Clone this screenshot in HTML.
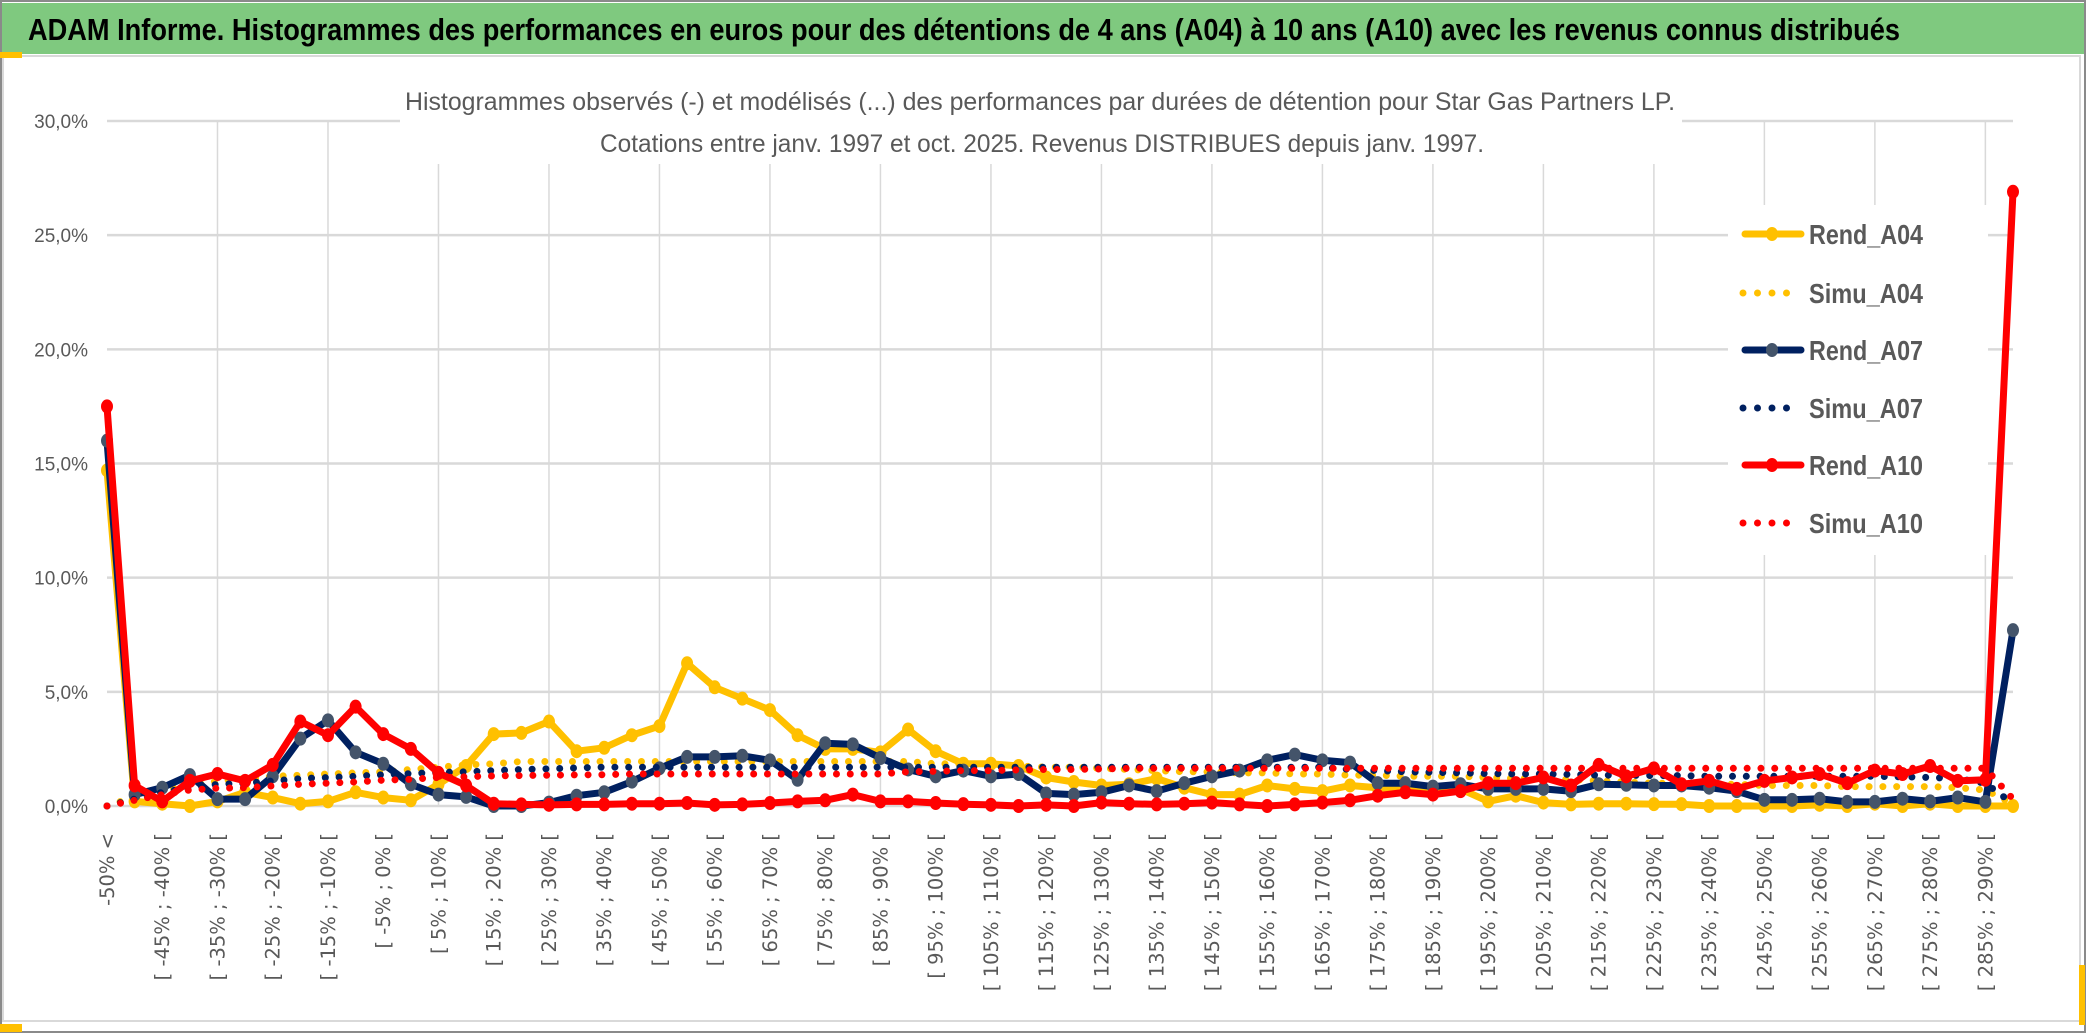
<!DOCTYPE html>
<html><head><meta charset="utf-8"><style>
html,body{margin:0;padding:0;background:#fff;}
svg{display:block;}
</style></head><body>
<svg id="chart" width="2086" height="1033" viewBox="0 0 2086 1033" xmlns="http://www.w3.org/2000/svg">
<rect x="0" y="0" width="2086" height="1033" fill="#fff"/>
<rect x="1" y="1" width="2084" height="1031" fill="none" stroke="#8a8a8a" stroke-width="2"/>
<rect x="2" y="3" width="2082" height="51" fill="#7fc97f"/>
<text x="28" y="40" font-family="'Liberation Sans Narrow','Liberation Sans',sans-serif" font-weight="bold" font-size="31" fill="#000" textLength="1872" lengthAdjust="spacingAndGlyphs">ADAM Informe. Histogrammes des performances en euros pour des détentions de 4 ans (A04) à 10 ans (A10) avec les revenus connus distribués</text>
<rect x="3" y="56" width="2077" height="965" fill="none" stroke="#d9d9d9" stroke-width="2"/>
<rect x="0" y="52" width="22" height="6" fill="#ffc000"/>
<rect x="0" y="1024" width="22" height="8" fill="#ffc000"/>
<rect x="2079" y="965" width="6" height="60" fill="#ffc000"/>
<g id="grid"></g>
<rect x="400" y="68" width="1282" height="96" fill="#fff"/>
<text x="1040" y="110" text-anchor="middle" font-family="'Liberation Sans Narrow','Liberation Sans',sans-serif" font-size="25" fill="#595959" textLength="1270" lengthAdjust="spacingAndGlyphs">Histogrammes observés (-) et modélisés (...) des performances par durées de détention pour Star Gas Partners LP.</text>
<text x="1042" y="152" text-anchor="middle" font-family="'Liberation Sans Narrow','Liberation Sans',sans-serif" font-size="25" fill="#595959" textLength="884" lengthAdjust="spacingAndGlyphs">Cotations entre janv. 1997 et oct. 2025. Revenus DISTRIBUES depuis janv. 1997.</text>
<g id="yaxis"></g>
<g id="xaxis"></g>
<g id="series"></g>
<g id="legend"></g>
</svg>
<script>
const categories = ["-50% <","[ -50% ; -45% [","[ -45% ; -40% [","[ -40% ; -35% [","[ -35% ; -30% [","[ -30% ; -25% [","[ -25% ; -20% [","[ -20% ; -15% [","[ -15% ; -10% [","[ -10% ; -5% [","[ -5% ; 0% [","[ 0% ; 5% [","[ 5% ; 10% [","[ 10% ; 15% [","[ 15% ; 20% [","[ 20% ; 25% [","[ 25% ; 30% [","[ 30% ; 35% [","[ 35% ; 40% [","[ 40% ; 45% [","[ 45% ; 50% [","[ 50% ; 55% [","[ 55% ; 60% [","[ 60% ; 65% [","[ 65% ; 70% [","[ 70% ; 75% [","[ 75% ; 80% [","[ 80% ; 85% [","[ 85% ; 90% [","[ 90% ; 95% [","[ 95% ; 100% [","[ 100% ; 105% [","[ 105% ; 110% [","[ 110% ; 115% [","[ 115% ; 120% [","[ 120% ; 125% [","[ 125% ; 130% [","[ 130% ; 135% [","[ 135% ; 140% [","[ 140% ; 145% [","[ 145% ; 150% [","[ 150% ; 155% [","[ 155% ; 160% [","[ 160% ; 165% [","[ 165% ; 170% [","[ 170% ; 175% [","[ 175% ; 180% [","[ 180% ; 185% [","[ 185% ; 190% [","[ 190% ; 195% [","[ 195% ; 200% [","[ 200% ; 205% [","[ 205% ; 210% [","[ 210% ; 215% [","[ 215% ; 220% [","[ 220% ; 225% [","[ 225% ; 230% [","[ 230% ; 235% [","[ 235% ; 240% [","[ 240% ; 245% [","[ 245% ; 250% [","[ 250% ; 255% [","[ 255% ; 260% [","[ 260% ; 265% [","[ 265% ; 270% [","[ 270% ; 275% [","[ 275% ; 280% [","[ 280% ; 285% [","[ 285% ; 290% [","> 290%"];
const yTicks = [0,5,10,15,20,25,30];
const yTickLabels = ["0,0%","5,0%","10,0%","15,0%","20,0%","25,0%","30,0%"];
const rendA04 = [14.7,0.2,0.1,0.0,0.2,0.6,0.37,0.1,0.2,0.6,0.37,0.25,0.95,1.75,3.15,3.2,3.7,2.4,2.55,3.1,3.5,6.25,5.2,4.7,4.2,3.1,2.5,2.5,2.35,3.35,2.4,1.85,1.85,1.75,1.25,1.05,0.9,0.95,1.2,0.8,0.5,0.5,0.9,0.75,0.65,0.9,0.8,0.75,0.8,0.75,0.2,0.45,0.15,0.07,0.1,0.1,0.08,0.08,0,0,0,0,0.05,0,0.1,0,0.1,0,0,0];
const simuA04 = [0,0.4,0.7,0.9,1.1,1.2,1.3,1.35,1.4,1.45,1.5,1.6,1.7,1.8,1.85,1.95,1.95,1.95,1.95,1.95,1.95,1.95,1.95,1.95,1.95,1.95,1.95,1.95,1.95,1.95,1.85,1.85,1.8,1.75,1.7,1.7,1.65,1.6,1.55,1.5,1.5,1.45,1.45,1.4,1.4,1.35,1.35,1.3,1.3,1.3,1.25,1.2,1.2,1.15,1.1,1.05,1.0,1.0,0.95,0.95,0.9,0.9,0.9,0.85,0.85,0.85,0.85,0.8,0.7,0.1];
const rendA07 = [16.0,0.5,0.8,1.35,0.3,0.3,1.3,2.95,3.75,2.35,1.85,0.95,0.5,0.4,0,0,0.15,0.45,0.6,1.07,1.65,2.15,2.15,2.2,2.0,1.15,2.75,2.7,2.1,1.6,1.3,1.55,1.3,1.4,0.55,0.5,0.6,0.9,0.65,1.0,1.3,1.55,2.0,2.25,2.0,1.9,1.0,1.0,0.85,0.95,0.75,0.75,0.75,0.65,0.95,0.93,0.9,0.9,0.8,0.65,0.27,0.27,0.32,0.18,0.18,0.32,0.2,0.37,0.18,7.7];
const simuA07 = [0,0.3,0.6,0.8,0.95,1.0,1.1,1.2,1.25,1.3,1.37,1.42,1.47,1.5,1.55,1.6,1.63,1.67,1.7,1.7,1.7,1.7,1.7,1.7,1.7,1.7,1.7,1.7,1.7,1.7,1.7,1.7,1.7,1.7,1.7,1.7,1.7,1.7,1.7,1.7,1.7,1.7,1.7,1.7,1.7,1.6,1.55,1.5,1.47,1.45,1.42,1.4,1.4,1.38,1.35,1.35,1.33,1.33,1.3,1.3,1.3,1.3,1.3,1.3,1.3,1.28,1.25,1.2,1.0,0.1];
const rendA10 = [17.5,0.9,0.2,1.1,1.4,1.1,1.8,3.7,3.1,4.35,3.15,2.5,1.45,0.9,0.1,0.07,0.05,0.07,0.07,0.1,0.1,0.13,0.05,0.07,0.13,0.2,0.25,0.5,0.2,0.2,0.13,0.08,0.05,0,0.05,0,0.15,0.1,0.07,0.1,0.15,0.07,0,0.07,0.15,0.25,0.45,0.6,0.5,0.65,1.0,1.0,1.25,0.9,1.8,1.3,1.65,0.95,1.1,0.75,1.1,1.25,1.4,1.0,1.55,1.4,1.75,1.1,1.15,26.9];
const simuA10 = [0,0.25,0.5,0.7,0.78,0.8,0.88,0.95,1.0,1.05,1.13,1.17,1.25,1.28,1.32,1.33,1.35,1.36,1.37,1.4,1.4,1.4,1.4,1.4,1.4,1.4,1.4,1.4,1.4,1.5,1.52,1.55,1.55,1.58,1.6,1.6,1.62,1.65,1.65,1.65,1.65,1.65,1.65,1.65,1.65,1.65,1.65,1.65,1.65,1.65,1.65,1.65,1.65,1.65,1.65,1.65,1.65,1.65,1.65,1.65,1.65,1.65,1.65,1.65,1.65,1.65,1.65,1.65,1.65,0.3];
const seriesNames = ["Rend_A04","Simu_A04","Rend_A07","Simu_A07","Rend_A10","Simu_A10"];

const NS = "http://www.w3.org/2000/svg";
const X0 = 107, X1 = 2013, YBOT = 806, YTOP = 121, YMAX = 30;
function xPos(i){ return X0 + i * (X1 - X0) / (categories.length - 1); }
function yPos(v){ return YBOT - v * (YBOT - YTOP) / YMAX; }
function mk(tag, attrs, parent){ const e = document.createElementNS(NS, tag); for (const k in attrs) e.setAttribute(k, attrs[k]); parent.appendChild(e); return e; }

const grid = document.getElementById('grid');
yTicks.forEach(t => {
  const l = mk('line', {x1:X0, x2:X1, y1:yPos(t), y2:yPos(t), stroke:'#d9d9d9', 'stroke-width':2.5}, grid);
  
  
});
for (let i = 4; i < categories.length; i += 4) {
  const l = mk('line', {x1:xPos(i), x2:xPos(i), y1:YTOP, y2:YBOT, stroke:'#d9d9d9', 'stroke-width':1.5}, grid);
  
  
}

const yaxis = document.getElementById('yaxis');
yTicks.forEach((t, k) => {
  const tx = mk('text', {x:88, y:yPos(t)+7, 'text-anchor':'end', 'font-family':"'Liberation Sans Narrow','Liberation Sans',sans-serif", 'font-size':19, fill:'#595959'}, yaxis);
  tx.textContent = yTickLabels[k];
  
  
});

const xaxis = document.getElementById('xaxis');
categories.forEach((c, i) => {
  if (i % 2 !== 0) return;
  const x = xPos(i) + 7;
  const tx = mk('text', {x:x, y:833, 'text-anchor':'end', transform:'rotate(-90 '+x+' 833)', 'font-family':"'DejaVu Sans',sans-serif", 'font-size':19.5, fill:'#595959'}, xaxis);
  tx.textContent = c;
  
  
});

const seriesG = document.getElementById('series');
function pts(arr){ return arr.map((v,i) => xPos(i).toFixed(1)+','+yPos(v).toFixed(1)).join(' '); }
function solid(arr, color, mcolor, name){
  const g = mk('g', {}, seriesG);
  
  
  const pl = mk('polyline', {points:pts(arr), fill:'none', stroke:color, 'stroke-width':7, 'stroke-linejoin':'round', 'stroke-linecap':'round'}, g);
  
  
  arr.forEach((v,i) => {
    const c = mk('ellipse', {cx:xPos(i), cy:yPos(v), rx:6, ry:7, fill:mcolor}, g);
    
    
  });
}
function dotted(arr, color, name){
  const pl = mk('polyline', {points:pts(arr), fill:'none', stroke:color, 'stroke-width':7, 'stroke-dasharray':'0 13.8', 'stroke-linecap':'round'}, seriesG);
  
  
}
solid(rendA04, '#ffc000', '#ffc000', 'rend-a04-series');
dotted(simuA04, '#ffc000', 'simu-a04-series');
solid(rendA07, '#002060', '#44546a', 'rend-a07-series');
dotted(simuA07, '#002060', 'simu-a07-series');
solid(rendA10, '#ff0000', '#ff0000', 'rend-a10-series');
dotted(simuA10, '#ff0000', 'simu-a10-series');

const legend = document.getElementById('legend');
const bg = mk('rect', {x:1728, y:205, width:260, height:350, fill:'#fff'}, legend);


const legColors = ['#ffc000','#ffc000','#002060','#002060','#ff0000','#ff0000'];
const legMarkers = ['#ffc000',null,'#44546a',null,'#ff0000',null];
const legY = [234,293,350,408,465,523];
seriesNames.forEach((n, k) => {
  const g = mk('g', {}, legend);
  
  
  const y = legY[k];
  if (legMarkers[k]) {
    mk('line', {x1:1745, x2:1801, y1:y, y2:y, stroke:legColors[k], 'stroke-width':7, 'stroke-linecap':'round'}, g);
    mk('ellipse', {cx:1772, cy:y, rx:6, ry:7, fill:legMarkers[k]}, g);
  } else {
    mk('line', {x1:1743, x2:1800, y1:y, y2:y, stroke:legColors[k], 'stroke-width':7, 'stroke-dasharray':'0 14.5', 'stroke-linecap':'round'}, g);
  }
  const t = mk('text', {x:1809, y:y+10, 'font-family':"'Liberation Sans Narrow','Liberation Sans',sans-serif", 'font-size':28, 'font-weight':'bold', fill:'#595959', textLength:114, lengthAdjust:'spacingAndGlyphs'}, g);
  t.textContent = n;
});
</script>
</body></html>
